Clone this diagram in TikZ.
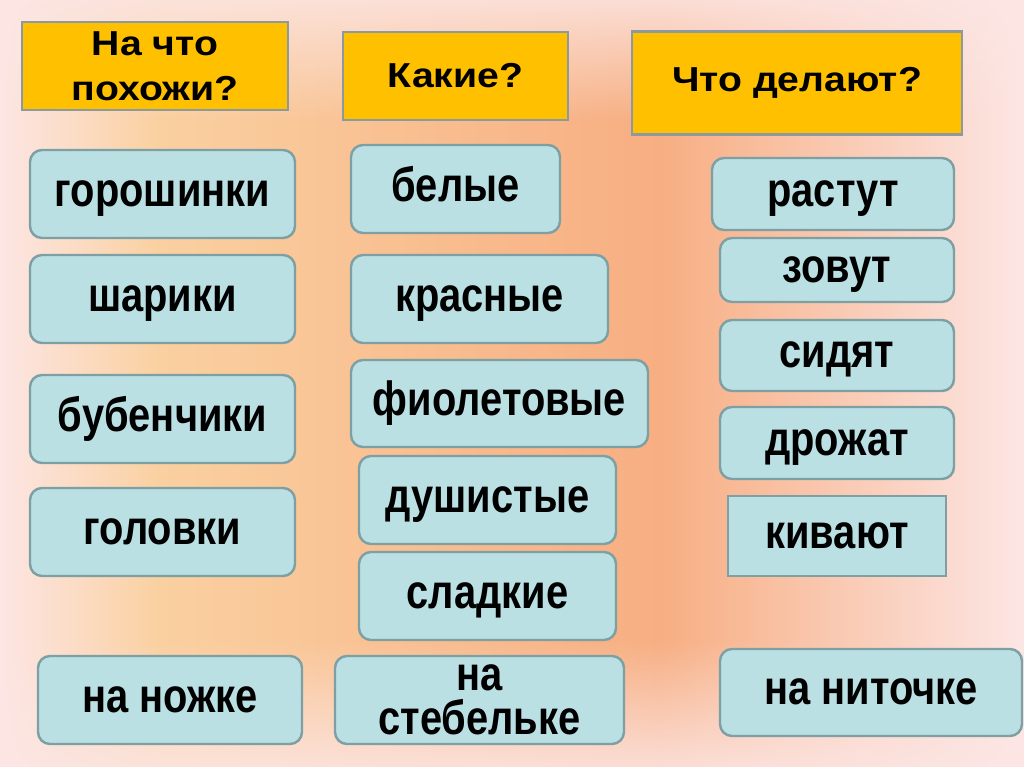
\documentclass[tikz,border=0pt]{standalone}
\usepackage{fontspec}
\setmainfont{Liberation Sans}
\newfontface\bodyfont[FakeStretch=0.83]{Liberation Sans Bold}
\newfontface\hdrfont[FakeStretch=1.13]{Liberation Sans Bold}
\usetikzlibrary{fadings}
\definecolor{boxfill}{HTML}{BAE0E4}
\definecolor{boxline}{HTML}{7E9FA3}
\definecolor{hdrfill}{HTML}{FFC000}
\definecolor{hdrline}{HTML}{8C9AA0}
\definecolor{bgpink}{HTML}{FCE6E4}
\definecolor{bgpeach}{HTML}{FAD0A0}
\definecolor{bgorange}{HTML}{F7AE82}
\begin{document}
\begin{tikzpicture}[x=0.75pt,y=-0.75pt,
  base/.style 2 args={line width=1.8pt, minimum width=#1*0.75pt, minimum height=#2*0.75pt,
    inner sep=0pt, align=center},
  bx/.style 2 args={base={#1}{#2}, draw=boxline, fill=boxfill, rounded corners=9pt,
    font=\fontsize{36}{33}\bodyfont, text height=18.7pt, text depth=0pt},
  bxm/.style 2 args={base={#1}{#2}, draw=boxline, fill=boxfill, rounded corners=9pt,
    font=\fontsize{36}{33}\bodyfont},
  sq/.style 2 args={base={#1}{#2}, draw=boxline, fill=boxfill,
    font=\fontsize{36}{33}\bodyfont, text height=18.7pt, text depth=0pt},
  hd/.style 2 args={base={#1}{#2}, draw=hdrline, fill=hdrfill,
    font=\fontsize{26}{34}\hdrfont}]
\useasboundingbox (0,0) rectangle (1024,767);
% background
\fill[bgpink] (0,0) rectangle (1024,767);
\shade[left color=bgpeach, right color=bgorange] (160,0) rectangle (660,767);
\shade[left color=bgpink, right color=bgpeach] (0,0) rectangle (160,767);
\shade[left color=bgorange, right color=bgpink] (660,0) rectangle (1024,767);
\fill[bgpink, path fading=south, opacity=0.85] (0,0) rectangle (1024,120);
\fill[bgpink, path fading=north, opacity=0.85] (0,640) rectangle (1024,767);
% headers
\node[hd={266}{88}] (h1) at (155,66) {На что\\похожи?};
\node[hd={225}{88}] (h2) at (455.5,76) {Какие?};
\node[hd={330}{103}] (h3) at (797,83) {Что делают?};
% left column
\node[bx={265}{88}] (a1) at (162.5,194) {горошинки};
\node[bx={265}{88}] (a2) at (162.5,299) {шарики};
\node[bx={265}{88}] (a3) at (162.5,419) {бубенчики};
\node[bx={265}{88}] (a4) at (162.5,532) {головки};
\node[bx={264}{88}] (a5) at (170,700) {на ножке};
% middle column
\node[bx={209}{88}] (b1) at (455.5,189) {белые};
\node[bx={257}{88}] (b2) at (479.5,299) {красные};
\node[bx={297}{87}] (b3) at (499.5,403.5) {фиолетовые};
\node[bx={257}{88}] (b4) at (487.5,500) {душистые};
\node[bx={257}{88}] (b5) at (487.5,596) {сладкие};
\node[bxm={289}{88}] (b6) at (479.5,700) {на\\стебельке};
% right column
\node[bx={242}{72}] (c1) at (833,194) {растут};
\node[bx={234}{64}] (c2) at (837,270) {зовут};
\node[bx={234}{71}] (c3) at (837,355.5) {сидят};
\node[bx={234}{72}] (c4) at (837,443) {дрожат};
\node[sq={218}{80}] (c5) at (837,536) {кивают};
\node[bx={302}{87}] (c6) at (871,692.5) {на ниточке};
\end{tikzpicture}
\end{document}
